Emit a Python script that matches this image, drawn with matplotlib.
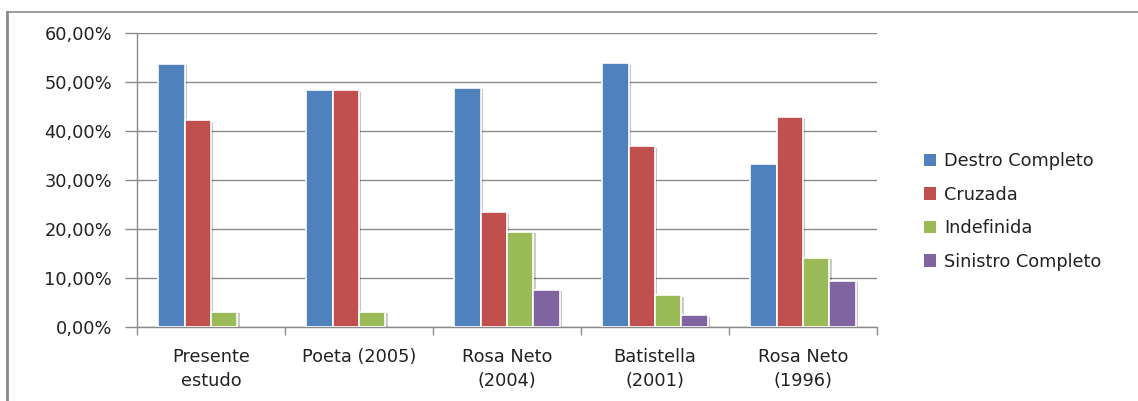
import numpy as np
import matplotlib.pyplot as plt
from matplotlib import patheffects
from matplotlib.lines import Line2D
from matplotlib.patches import Patch
from matplotlib.ticker import FuncFormatter, FixedLocator

plt.rcParams['font.family'] = ['DejaVu Sans']

estudos = ['Presente\nestudo', 'Poeta (2005)', 'Rosa Neto\n(2004)', 'Batistella\n(2001)', 'Rosa Neto\n(1996)']
series = ['Destro Completo', 'Cruzada', 'Indefinida', 'Sinistro Completo']
destro = [53.7, 48.3, 48.8, 53.8, 33.2]
cruzada = [42.2, 48.3, 23.4, 36.9, 42.8]
indefinida = [3.1, 3.1, 19.4, 6.5, 14.1]
sinistro = [0.0, 0.0, 7.6, 2.4, 9.4]
cores = ['#4F81BD', '#C0504D', '#9BBB59', '#8064A2']

fs = 12.8
fig = plt.figure(figsize=(11.38, 4.01), dpi=100)
fig.patch.set_facecolor('white')
ax = fig.add_axes([137 / 1138, 1 - 327 / 401, 740 / 1138, 294 / 401])

x = np.arange(len(estudos))
w = 0.179
sombra = [patheffects.SimplePatchShadow(offset=(1.5, -1.0), alpha=0.25), patheffects.Normal()]
for i, vals in enumerate([destro, cruzada, indefinida, sinistro]):
    barras = ax.bar(x + (i - 1.5) * w, vals, w, color=cores[i], edgecolor='white',
                    linewidth=1.2, zorder=3)
    for b in barras:
        if b.get_height() > 0:
            b.set_path_effects(sombra)
        else:
            b.set_visible(False)

ax.set_xlim(-0.5, len(estudos) - 0.5)
ax.set_ylim(0, 60)
ax.set_yticks(np.arange(0, 61, 10))
ax.yaxis.set_major_formatter(FuncFormatter(lambda v, p: f'{v:.2f}%'.replace('.', ',')))
ax.grid(axis='y', color='#8a8a8a', linewidth=1.0, zorder=0)
ax.set_axisbelow(True)

ax.set_xticks(x)
ax.set_xticklabels(estudos, fontsize=fs, color='#222222', linespacing=1.45)
ax.xaxis.set_minor_locator(FixedLocator(np.arange(-0.5, len(estudos), 1.0)))
ax.tick_params(axis='x', which='major', length=0, pad=15)
ax.tick_params(axis='x', which='minor', length=6, color='#8a8a8a', width=1)
ax.tick_params(axis='y', length=9, color='#8a8a8a', width=1, labelsize=fs,
               labelcolor='#222222', pad=9)

for s in ['top', 'right']:
    ax.spines[s].set_visible(False)
for s in ['left', 'bottom']:
    ax.spines[s].set_color('#8a8a8a')
    ax.spines[s].set_linewidth(1.0)

handles = [Patch(facecolor=c, edgecolor='none', label=n) for c, n in zip(cores, series)]
fig.legend(handles=handles, loc='upper left', bbox_to_anchor=(908 / 1138, 1 - 136 / 401),
           frameon=False, fontsize=fs, handlelength=0.7, handleheight=0.7, handletextpad=0.45,
           labelspacing=0.88, labelcolor='#222222')

# moldura do gráfico (apenas topo e esquerda ficam visíveis)
fig.add_artist(Line2D([7 / 1138, 7 / 1138], [0, 1 - 12 / 401], color='#8a8a8a', linewidth=2.0))
fig.add_artist(Line2D([7 / 1138, 1], [1 - 12 / 401, 1 - 12 / 401], color='#8a8a8a', linewidth=1.2))

fig.savefig('out.png', dpi=100)
